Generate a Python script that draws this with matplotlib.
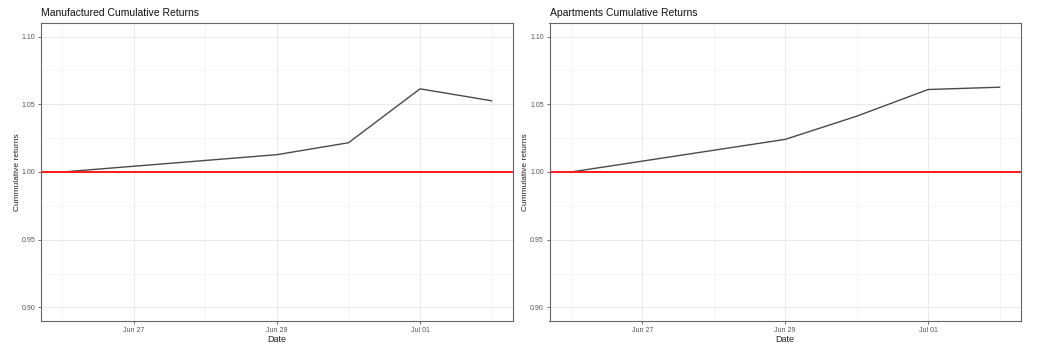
import numpy as np
import matplotlib
matplotlib.use('Agg')
import matplotlib.pyplot as plt
import matplotlib.dates as mdates

plt.rcParams['font.family'] = ['Liberation Sans', 'DejaVu Sans']

datas = np.array(['2020-06-26', '2020-06-29', '2020-06-30', '2020-07-01', '2020-07-02'],
                 dtype='datetime64[D]')
manufactured = [1.000, 1.0128, 1.0216, 1.0614, 1.0526]
apartments = [1.000, 1.0241, 1.0412, 1.0609, 1.0626]
titulos = ['Manufactured Cumulative Returns', 'Apartments Cumulative Returns']

fig = plt.figure(figsize=(10.4, 3.52), dpi=100)
posicoes = [[41 / 1040, 31 / 352, 472 / 1040, 298 / 352],
            [549.5 / 1040, 31 / 352, 471.5 / 1040, 298 / 352]]

for pos, serie, titulo in zip(posicoes, [manufactured, apartments], titulos):
    ax = fig.add_axes(pos)
    x = mdates.date2num(datas)
    span = x[-1] - x[0]
    ax.set_xlim(x[0] - 0.05 * span, x[-1] + 0.05 * span)
    ax.set_ylim(0.89, 1.11)

    # grade estilo theme_bw
    ax.set_xticks(mdates.date2num(np.array(['2020-06-27', '2020-06-29', '2020-07-01'],
                                           dtype='datetime64[D]')))
    ax.set_xticks(mdates.date2num(np.array(['2020-06-26', '2020-06-28', '2020-06-30',
                                            '2020-07-02'], dtype='datetime64[D]')),
                  minor=True)
    ax.xaxis.set_major_formatter(mdates.DateFormatter('%b %d'))
    ax.set_yticks([0.90, 0.95, 1.00, 1.05, 1.10])
    ax.set_yticks([0.925, 0.975, 1.025, 1.075], minor=True)
    ax.yaxis.set_major_formatter(plt.FormatStrFormatter('%.2f'))
    ax.grid(which='major', color='#e6e6e6', lw=0.6)
    ax.grid(which='minor', color='#f2f2f2', lw=0.5)
    ax.set_axisbelow(True)
    ax.tick_params(which='major', length=2, width=0.6, color='#555555',
                   labelsize=5, labelcolor='#555555', pad=2)
    ax.tick_params(which='minor', length=0)
    for sp in ax.spines.values():
        sp.set_color('#666666')
        sp.set_linewidth(0.8)

    ax.plot(datas, serie, color='#4a4a4a', lw=1.0)
    ax.axhline(1.0, color='#ff1a1a', lw=1.4)

    ax.set_xlabel('Date', fontsize=6.5, labelpad=1, color='#222222')
    ax.set_ylabel('Cummulative returns', fontsize=6, color='#222222')
    ax.yaxis.set_label_coords(-0.043, 0.5)
    ax.set_title(titulo, fontsize=7.5, loc='left', pad=5, color='#111111')

fig.savefig('out.png', dpi=100)
